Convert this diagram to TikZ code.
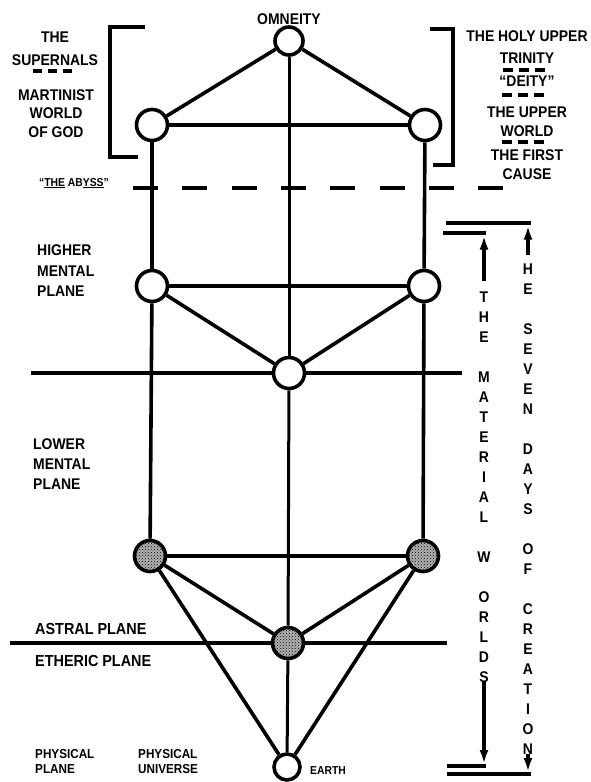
\documentclass[tikz,border=0pt]{standalone}
\usepackage{fontspec}
\setmainfont{Liberation Sans}[FakeStretch=0.9]
\usetikzlibrary{arrows.meta,patterns}
\begin{document}
\begin{tikzpicture}[x=1pt,y=-1pt,
  sph/.style={circle,draw,line width=3.6pt,minimum size=31pt,inner sep=0pt,fill=white},
  shd/.style={circle,draw,line width=3.6pt,minimum size=31pt,inner sep=0pt,preaction={fill=black!30},pattern=crosshatch dots},
  ln/.style={line width=3.6pt},
  cl/.style={line width=3pt},
  pl/.style={line width=3.2pt},
  br/.style={line width=3.8pt,line join=miter},
  dsh/.style={line width=4pt,dash pattern=on 10pt off 6pt},
  bar/.style={line width=3.8pt},
  arr/.style={line width=3.2pt,-{Latex[length=14pt,width=9pt]}},
  big/.style={font=\fontsize{15.5}{16}\selectfont\bfseries,inner sep=0pt,anchor=base},
  lft/.style={font=\fontsize{15.5}{16}\selectfont\bfseries,inner sep=0pt,anchor=base west},
  pla/.style={font=\fontsize{16}{17}\selectfont\bfseries,inner sep=0pt,anchor=base west},
  sml/.style={font=\fontsize{13}{14}\selectfont\bfseries,inner sep=0pt,anchor=base west},
  tiny/.style={font=\fontsize{11.5}{12}\selectfont\bfseries,inner sep=0pt,anchor=base west},
  col/.style={font=\fontsize{15.5}{16}\selectfont\bfseries,inner sep=0pt,anchor=base}
]
\useasboundingbox (0,0) rectangle (591,782);

% plane division lines (drawn first so circles cover them)
\coordinate (mlL) at (31,373);
\coordinate (mlR) at (462,373);
\coordinate (alL) at (10,643);
\coordinate (alR) at (447,643);
\draw[pl] (mlL) -- (mlR);
\draw[pl] (alL) -- (alR);

% the abyss
\coordinate (abL) at (133,188);
\coordinate (abR) at (505,188);
\draw[line width=4pt,dash pattern=on 25pt off 24.3pt] (abL) -- (abR);

% spheres
\node[sph,minimum size=28pt] (O) at (289,41) {};
\node[sph] (UL) at (152,125) {};
\node[sph] (UR) at (425,125) {};
\node[sph] (HL) at (152,286) {};
\node[sph] (HR) at (424,286) {};
\node[sph] (M) at (289,373) {};
\node[shd] (SL) at (150,556) {};
\node[shd] (SR) at (423,556) {};
\node[shd] (SC) at (288,643) {};
\node[sph,minimum size=26pt] (E) at (287,767) {};

% connectors
\draw[ln] (O) -- (UL);
\draw[ln] (O) -- (UR);
\draw[ln] (UL) -- (UR);
\draw[ln] (UL) -- (HL);
\draw[ln] (UR) -- (HR);
\draw[ln] (HL) -- (HR);
\draw[ln] (HL) -- (M);
\draw[ln] (HR) -- (M);
\draw[ln] (HL) -- (SL);
\draw[ln] (HR) -- (SR);
\draw[ln] (SL) -- (SR);
\draw[ln] (SL) -- (SC);
\draw[ln] (SR) -- (SC);
\draw[ln] (SL) -- (E);
\draw[ln] (SR) -- (E);
\draw[cl] (O) -- (M);
\draw[cl] (M) -- (SC);
\draw[cl] (SC) -- (E);

% brackets
\coordinate (lb1) at (145,27);
\coordinate (lb2) at (110,27);
\coordinate (lb3) at (110,157);
\coordinate (lb4) at (138,157);
\draw[br] (lb1) -- (lb2) -- (lb3) -- (lb4);
\coordinate (rb1) at (430,29);
\coordinate (rb2) at (453,29);
\coordinate (rb3) at (453,165);
\coordinate (rb4) at (433,165);
\draw[br] (rb1) -- (rb2) -- (rb3) -- (rb4);

% top label
\node[big] (tOmn) at (289,24) {OMNEITY};

% left block
\node[big] (tL1) at (55,42) {THE};
\node[big] (tL2) at (55,65) {SUPERNALS};
\coordinate (ld1) at (33,71);
\coordinate (ld2) at (74,71);
\draw[line width=4pt,dash pattern=on 9pt off 6pt] (ld1) -- (ld2);
\node[big] (tL3) at (56,100) {MARTINIST};
\node[big] (tL4) at (56,118) {WORLD};
\node[big] (tL5) at (56,137) {OF GOD};

% right block
\node[big] (tR1) at (527,41) {THE HOLY UPPER};
\node[big] (tR2) at (527,63) {TRINITY};
\coordinate (rd1a) at (503,70);
\coordinate (rd1b) at (545,70);
\draw[dsh] (rd1a) -- (rd1b);
\node[big] (tR3) at (527,86) {``DEITY''};
\coordinate (rd2a) at (502,95);
\coordinate (rd2b) at (544,95);
\draw[dsh] (rd2a) -- (rd2b);
\node[big] (tR4) at (527,117) {THE UPPER};
\node[big] (tR5) at (527,136) {WORLD};
\coordinate (rd3a) at (502,142);
\coordinate (rd3b) at (544,142);
\draw[dsh] (rd3a) -- (rd3b);
\node[big] (tR6) at (527,160) {THE FIRST};
\node[big] (tR7) at (527,179) {CAUSE};

% abyss label
\node[tiny] (tAb) at (39,186) {``\underline{THE} AB\underline{YSS}''};

% plane labels
\node[lft] (tH1) at (37,255) {HIGHER};
\node[lft] (tH2) at (37,276) {MENTAL};
\node[lft] (tH3) at (37,296) {PLANE};
\node[lft] (tLo1) at (33,449) {LOWER};
\node[lft] (tLo2) at (33,469) {MENTAL};
\node[lft] (tLo3) at (33,489) {PLANE};
\node[pla] (tAs) at (35,634) {ASTRAL PLANE};
\node[pla] (tEt) at (35,666) {ETHERIC PLANE};
\node[sml] (tP1) at (35,758) {PHYSICAL};
\node[sml] (tP2) at (35,773) {PLANE};
\node[sml] (tU1) at (138,758) {PHYSICAL};
\node[sml] (tU2) at (138,773) {UNIVERSE};
\node[tiny] (tEa) at (310,774) {EARTH};

% the material worlds column
\foreach \s/\ch in {1/T,2/H,3/E,5/M,6/A,7/T,8/E,9/R,10/I,11/A,12/L,14/W,16/O,17/R,18/L,19/D,20/S}
  \node[col] (mw\s) at (484,{302+20*(\s-1)}) {\ch};
% the seven days of creation column
\foreach \s/\ch in {1/H,2/E,4/S,5/E,6/V,7/E,8/N,10/D,11/A,12/Y,13/S,15/O,16/F,18/C,19/R,20/E,21/A,22/T,23/I,24/O,25/N}
  \node[col] (sd\s) at (528,{274+20*(\s-1)}) {\ch};

% bars and arrows
\coordinate (obT1) at (446,223);
\coordinate (obT2) at (531,223);
\coordinate (ibT1) at (443,233);
\coordinate (ibT2) at (486,233);
\coordinate (ibB1) at (447,766);
\coordinate (ibB2) at (486,766);
\coordinate (obB1) at (447,774);
\coordinate (obB2) at (531,774);
\draw[bar] (obT1) -- (obT2);
\draw[bar] (ibT1) -- (ibT2);
\draw[bar] (ibB1) -- (ibB2);
\draw[bar] (obB1) -- (obB2);

\coordinate (iaS) at (484,281);
\coordinate (iaE) at (484,235.5);
\draw[arr] (iaS) -- (iaE);
\coordinate (oaS) at (528,255);
\coordinate (oaE) at (528,225.5);
\draw[arr] (oaS) -- (oaE);
\coordinate (ibE) at (484,764);
\draw[arr] (mw20.south) -- (ibE);
\coordinate (obE) at (528,772);
\draw[arr] (sd25.south) -- (obE);
\end{tikzpicture}
\end{document}
